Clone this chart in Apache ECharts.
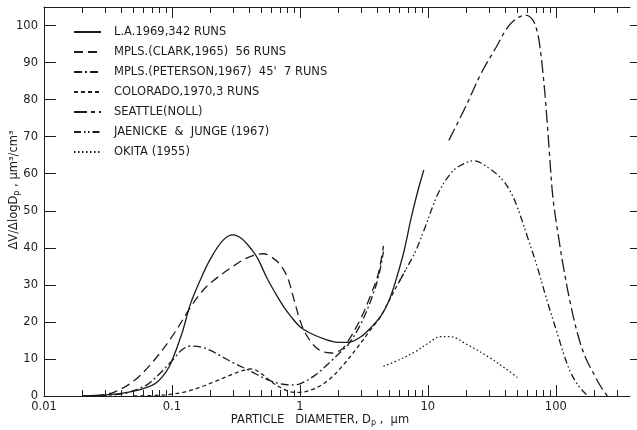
<!DOCTYPE html>
<html>
<head>
<meta charset="utf-8">
<script src="https://cdn.jsdelivr.net/npm/echarts@6/dist/echarts.min.js"></script>
<style>
html, body { margin: 0; padding: 0; background: #fff; }
#main { width: 637px; height: 430px; }
</style>
</head>
<body>
<div id="main"></div>
<script>
// particle diameter (um) and dV/dlogDp (um3/cm3)
var seriesNames = ['L.A.1969,342 RUNS', 'MPLS.(CLARK,1965)  56 RUNS', "MPLS.(PETERSON,1967)  45'  7 RUNS",
    'COLORADO,1970,3 RUNS', 'SEATTLE(NOLL)', 'JAENICKE  &  JUNGE (1967)', 'OKITA (1955)'];

var laX = [0.02, 0.03, 0.045, 0.06, 0.075, 0.09, 0.1, 0.12, 0.14, 0.17, 0.2, 0.25, 0.3, 0.35, 0.42, 0.47, 0.55, 0.65, 0.75, 0.85, 1.0, 1.2, 1.6, 2.0, 2.4, 3.0, 3.6, 4.3, 5.0, 5.6, 6.5, 7.4, 8.3, 9.3];
var laY = [0, 0.3, 1, 2, 3.5, 6.5, 9.5, 17, 25, 32, 37, 42, 43.5, 42.5, 39.5, 37, 32, 27.5, 24, 21.5, 18.7, 17, 15.2, 14.5, 14.5, 16, 18.5, 21.6, 26, 31, 39, 48, 55, 61];

var clarkX = [0.025, 0.035, 0.05, 0.07, 0.1, 0.14, 0.17, 0.2, 0.3, 0.4, 0.52, 0.6, 0.7, 0.8, 0.9, 1.0, 1.1, 1.3, 1.5, 1.75, 2.1, 2.4, 3.0, 3.6, 4.1, 4.5];
var clarkY = [0, 1, 4, 9, 16, 24, 28, 30.5, 35, 37.5, 38.4, 37.5, 35.5, 32, 26, 20.5, 17, 13.5, 12, 11.6, 12.5, 15, 21, 27.5, 33, 40.5];

var petersonX = [0.02, 0.04, 0.055, 0.065, 0.08, 0.1, 0.12, 0.14, 0.17, 0.2, 0.25, 0.3, 0.38, 0.45, 0.55, 0.7, 0.85, 1.0, 1.3, 1.7, 2.1, 2.4, 3.0, 3.6, 4.1, 4.5];
var petersonY = [0, 0.5, 2, 3.2, 6, 9.5, 12.5, 13.5, 13.2, 12.3, 10.5, 9, 7.3, 6, 4.5, 3.3, 3, 3.3, 5.5, 9, 12, 14, 19.5, 26, 32, 39];

var coloradoX = [0.05, 0.08, 0.1, 0.13, 0.17, 0.22, 0.28, 0.35, 0.42, 0.5, 0.6, 0.75, 0.9, 1.0, 1.3, 1.7, 2.2, 2.8, 3.5, 4.3, 5.2, 6.0, 6.7];
var coloradoY = [0, 0.2, 0.5, 1.2, 2.5, 4, 5.5, 6.8, 7.3, 6, 3.8, 1.8, 1, 1, 2, 4.5, 8.5, 13, 17.5, 21.6, 27, 31, 34];

var seattleX = [14.6, 20, 26, 34, 42, 50, 58, 66, 72, 76, 80, 83, 86, 89, 95, 105, 115, 130, 148, 170, 198, 225, 253];
var seattleY = [69, 78.5, 87, 94, 99.5, 102, 102.8, 101.5, 98, 93, 86, 80, 73, 66, 53.5, 43, 34.6, 25, 16.8, 10.5, 6, 2.5, 0];

var jjX = [6.0, 6.7, 8.0, 9.3, 12, 15, 17.5, 22.9, 30, 38, 44.5, 50, 60, 72, 85, 103, 115, 130, 150, 178];
var jjY = [31, 34, 39, 44.6, 54.6, 60, 62, 63.5, 61.5, 58.5, 55, 51, 43, 34.6, 26, 16.8, 11.5, 6.5, 2.8, 0];

var okitaX = [4.5, 6, 8, 10, 12.5, 15, 20, 30, 40, 50];
var okitaY = [8, 9.8, 12, 14.2, 16, 16, 14, 10.5, 7.5, 5];

// axis ticks
var decadeTicks = [0.01, 0.1, 1, 10, 100];
var decadeLabels = ['0.01', '0.1', '1', '10', '100'];
var minorTicks = [0.02, 0.03, 0.04, 0.05, 0.06, 0.07, 0.08, 0.09, 0.2, 0.3, 0.4, 0.5, 0.6, 0.7, 0.8, 0.9,
    2, 3, 4, 5, 6, 7, 8, 9, 20, 30, 40, 50, 60, 70, 80, 90, 200, 300];
var yTicks = [0, 10, 20, 30, 40, 50, 60, 70, 80, 90, 100];

var dashes = ['solid', [9, 5], [8, 3, 2, 3], [4, 3], [13, 4, 4, 4], [7, 3, 1.5, 2.5, 1.5, 3], [1.5, 2.5]];
var xs = [laX, clarkX, petersonX, coloradoX, seattleX, jjX, okitaX];
var ys = [laY, clarkY, petersonY, coloradoY, seattleY, jjY, okitaY];

var ink = '#1c1c1c';
var font = 'DejaVu Sans';

function lg(v) { return Math.log10(v); }

function makeXAxis(pos, ticks, len, showLine, showLabel) {
    return {
        type : 'value',
        position : pos,
        min : -2,
        max : 2.58,
        splitLine : { show : false },
        axisLine : { show : showLine, onZero : false, lineStyle : { color : ink, width : 1 } },
        axisTick : { inside : true, length : len, lineStyle : { color : ink }, customValues : ticks.map(lg) },
        axisLabel : {
            show : showLabel,
            customValues : decadeTicks.map(lg),
            margin : 5,
            color : ink,
            fontFamily : font,
            fontSize : 11.5,
            formatter : function(v) {
                var i = Math.round(v) + 2;
                return decadeLabels[i];
            }
        }
    };
}

var series = [];
for (var i = 0; i < seriesNames.length; i++) {
    var data = [];
    for (var j = 0; j < xs[i].length; j++) {
        data.push([lg(xs[i][j]), ys[i][j]]);
    }
    series.push({
        name : seriesNames[i],
        type : 'line',
        xAxisIndex : 0,
        yAxisIndex : 0,
        data : data,
        smooth : 0.35,
        symbol : 'none',
        showSymbol : false,
        color : ink,
        itemStyle : { color : ink },
        lineStyle : { color : ink, width : 1.3, type : dashes[i] },
        z : 3
    });
}

var chart = echarts.init(document.getElementById('main'));
chart.setOption({
    animation : false,
    backgroundColor : '#fff',
    grid : { left : 44, right : 7, top : 7, bottom : 34 },
    xAxis : [
        makeXAxis('bottom', minorTicks, 6, true, true),
        makeXAxis('bottom', decadeTicks, 11, false, false),
        makeXAxis('top', minorTicks, 6, true, false),
        makeXAxis('top', decadeTicks, 11, false, false)
    ],
    yAxis : [{
        type : 'value',
        position : 'left',
        min : 0,
        max : 105,
        splitLine : { show : false },
        axisLine : { show : true, onZero : false, lineStyle : { color : ink, width : 1 } },
        axisTick : { inside : true, length : 12, lineStyle : { color : ink }, customValues : yTicks },
        axisLabel : { customValues : yTicks, margin : 6, color : ink, fontFamily : font, fontSize : 11.5 }
    }, {
        type : 'value',
        position : 'right',
        min : 0,
        max : 105,
        splitLine : { show : false },
        axisLine : { show : false, onZero : false },
        axisTick : { inside : false, length : 7, lineStyle : { color : ink }, customValues : yTicks.slice(1) },
        axisLabel : { show : false }
    }],
    legend : {
        orient : 'vertical',
        left : 73,
        top : 26,
        padding : 0,
        itemWidth : 27,
        itemHeight : 12,
        itemGap : 8,
        data : seriesNames,
        itemStyle : { opacity : 0 },
        lineStyle : { color : ink },
        textStyle : { color : ink, fontFamily : font, fontSize : 11.5, padding : [0, 0, 0, 8] }
    },
    graphic : [{
        type : 'text',
        x : 14,
        y : 190,
        rotation : Math.PI / 2,
        style : {
            text : '{a|ΔV/ΔlogD}{s|p}{a| , μm³/cm³}',
            align : 'center',
            verticalAlign : 'middle',
            fill : ink,
            rich : {
                a : { fontFamily : font, fontSize : 11.5, fill : ink },
                s : { fontFamily : font, fontSize : 8, fill : ink, padding : [5, 0, 0, 0] }
            }
        }
    }, {
        type : 'text',
        x : 320,
        y : 420,
        style : {
            text : '{a|PARTICLE   DIAMETER, D}{s|p}{a| ,  μm}',
            align : 'center',
            verticalAlign : 'middle',
            fill : ink,
            rich : {
                a : { fontFamily : font, fontSize : 11.5, fill : ink },
                s : { fontFamily : font, fontSize : 8, fill : ink, padding : [5, 0, 0, 0] }
            }
        }
    }],
    series : series
});
</script>
</body>
</html>
